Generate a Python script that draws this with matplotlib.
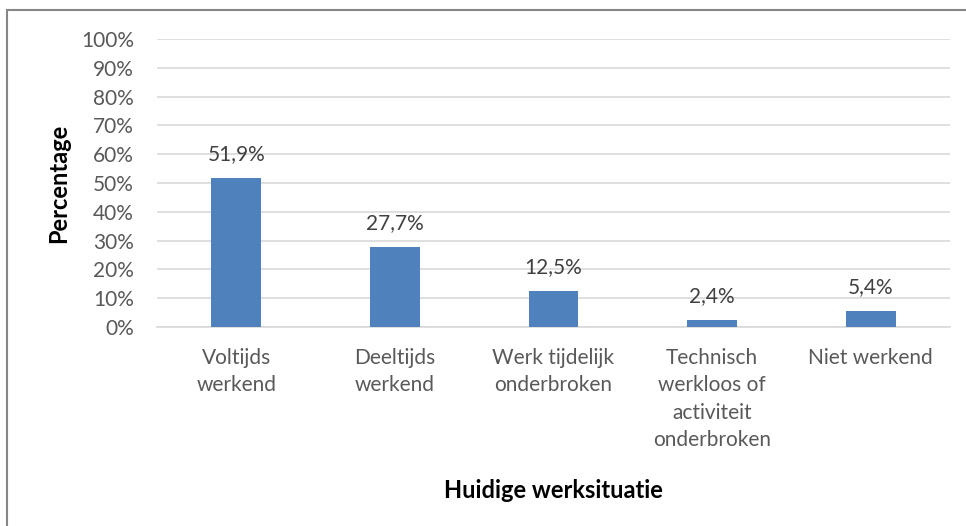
import matplotlib.pyplot as plt
from matplotlib.patches import Rectangle
from matplotlib.ticker import FuncFormatter

categories = ["Voltijds\nwerkend", "Deeltijds\nwerkend", "Werk tijdelijk\nonderbroken",
              "Technisch\nwerkloos of\nactiviteit\nonderbroken", "Niet werkend"]
values = [0.519, 0.277, 0.125, 0.024, 0.054]
labels = ["51,9%", "27,7%", "12,5%", "2,4%", "5,4%"]

plt.rcParams['font.family'] = ['Lato', 'DejaVu Sans']

fig = plt.figure(figsize=(9.66, 5.26), dpi=100)
ax = fig.add_axes([157 / 966, 1 - 327 / 526, 793 / 966, 288 / 526])

x = range(len(categories))
bars = ax.bar(x, values, width=0.315, color='#4F81BD', zorder=3)

for b, lab in zip(bars, labels):
    ax.annotate(lab, (b.get_x() + b.get_width() / 2, b.get_height()),
                xytext=(0, 10), textcoords='offset points', ha='center', va='bottom',
                fontsize=15, color='#404040')

ax.set_xlim(-0.5, len(categories) - 0.5)
ax.set_ylim(0, 1)
ax.set_yticks([i / 10 for i in range(11)])
ax.yaxis.set_major_formatter(FuncFormatter(lambda v, p: f"{v * 100:.0f}%"))
ax.set_xticks(list(x))
ax.set_xticklabels(categories, linespacing=1.47)

ax.grid(axis='y', color='#D9D9D9', linewidth=1.2, zorder=0)
for s in ['top', 'right', 'left']:
    ax.spines[s].set_visible(False)
ax.spines['bottom'].set_color('#D9D9D9')
ax.spines['bottom'].set_linewidth(1.2)
ax.tick_params(axis='both', length=0, labelsize=15, colors='#595959')
ax.tick_params(axis='y', pad=16.5)
ax.tick_params(axis='x', pad=15)

ax.set_ylabel("Percentage", fontsize=17, fontweight='bold', color='black', labelpad=8)
fig.text(553 / 966, 1 - 490 / 526, "Huidige werksituatie", ha='center', va='center',
         fontsize=17, fontweight='bold', color='black')

# chart border
fig.patches.append(Rectangle((7 / 966, -0.05), 1.05, 1 - 10 / 526 + 0.05,
                             transform=fig.transFigure, fill=False,
                             edgecolor='#868686', linewidth=1.5))

fig.savefig("out.png", dpi=100)
